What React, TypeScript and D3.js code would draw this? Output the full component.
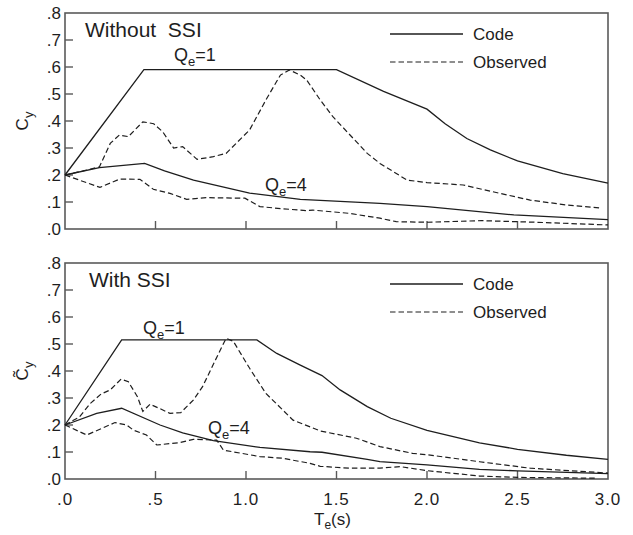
import React from 'react';
import * as d3 from 'd3';

// Yield strength coefficient spectra: period T_e (s) vs C_y
type Pt = [number, number];

const withoutCodeQ1: Pt[] = [[0, 0.2], [0.436, 0.59], [1.5, 0.59], [1.76, 0.51], [2.0, 0.444], [2.1, 0.39], [2.22, 0.335], [2.35, 0.293], [2.5, 0.252], [2.75, 0.205], [3.0, 0.17]];
const withoutObsQ1: Pt[] = [[0, 0.2], [0.1, 0.215], [0.19, 0.23], [0.25, 0.317], [0.3, 0.348], [0.35, 0.342], [0.43, 0.397], [0.49, 0.39], [0.54, 0.36], [0.6, 0.3], [0.65, 0.305], [0.73, 0.258], [0.82, 0.268], [0.89, 0.28], [1.02, 0.367], [1.11, 0.478], [1.19, 0.57], [1.24, 0.589], [1.3, 0.57], [1.335, 0.552], [1.41, 0.478], [1.48, 0.416], [1.67, 0.28], [1.74, 0.243], [1.89, 0.181], [2.0, 0.172], [2.2, 0.163], [2.35, 0.14], [2.57, 0.107], [2.77, 0.089], [2.965, 0.077]];
const withoutCodeQ4: Pt[] = [[0, 0.2], [0.19, 0.227], [0.44, 0.243], [0.55, 0.215], [0.71, 0.181], [1.02, 0.133], [1.3, 0.11], [1.74, 0.095], [2.0, 0.083], [2.48, 0.052], [3.0, 0.035]];
const withoutObsQ4: Pt[] = [[0, 0.2], [0.193, 0.154], [0.267, 0.175], [0.304, 0.185], [0.414, 0.184], [0.488, 0.147], [0.58, 0.132], [0.672, 0.11], [0.78, 0.116], [0.994, 0.114], [1.077, 0.083], [1.2, 0.075], [1.335, 0.068], [1.37, 0.07], [1.57, 0.058], [1.74, 0.04], [1.83, 0.027], [2.0, 0.025], [2.3, 0.031], [2.6, 0.025], [3.0, 0.015]];

const withCodeQ1: Pt[] = [[0, 0.2], [0.313, 0.515], [1.06, 0.515], [1.17, 0.465], [1.3, 0.422], [1.42, 0.383], [1.52, 0.33], [1.67, 0.268], [1.8, 0.225], [2.0, 0.18], [2.29, 0.134], [2.5, 0.11], [2.77, 0.088], [3.0, 0.073]];
const withObsQ1: Pt[] = [[0, 0.2], [0.08, 0.23], [0.14, 0.28], [0.2, 0.315], [0.25, 0.33], [0.31, 0.37], [0.35, 0.36], [0.4, 0.305], [0.43, 0.25], [0.47, 0.277], [0.52, 0.262], [0.58, 0.243], [0.64, 0.246], [0.71, 0.293], [0.76, 0.342], [0.84, 0.453], [0.89, 0.521], [0.93, 0.51], [1.02, 0.41], [1.11, 0.317], [1.26, 0.218], [1.41, 0.178], [1.61, 0.151], [1.74, 0.12], [1.92, 0.095], [2.0, 0.09], [2.29, 0.064], [2.57, 0.04], [3.0, 0.022]];
const withCodeQ4: Pt[] = [[0, 0.2], [0.175, 0.243], [0.313, 0.262], [0.525, 0.2], [0.65, 0.171], [0.82, 0.142], [1.077, 0.117], [1.354, 0.101], [1.42, 0.099], [1.67, 0.073], [1.74, 0.064], [2.0, 0.052], [2.29, 0.036], [2.5, 0.03], [3.0, 0.02]];
const withObsQ4: Pt[] = [[0, 0.2], [0.12, 0.163], [0.276, 0.209], [0.34, 0.2], [0.378, 0.181], [0.45, 0.163], [0.507, 0.126], [0.635, 0.135], [0.709, 0.147], [0.838, 0.144], [0.875, 0.107], [1.077, 0.083], [1.2, 0.077], [1.354, 0.058], [1.41, 0.047], [1.57, 0.04], [1.74, 0.04], [1.85, 0.046], [2.0, 0.031], [2.29, 0.011], [2.5, 0.006], [2.93, 0.003]];

const yTicks = [0, 0.1, 0.2, 0.3, 0.4, 0.5, 0.6, 0.7, 0.8];
const yTickLabels = ['.0', '.1', '.2', '.3', '.4', '.5', '.6', '.7', '.8'];
const xTicks = [0, 0.5, 1.0, 1.5, 2.0, 2.5, 3.0];
const xTickLabels = ['.0', '.5', '1.0', '1.5', '2.0', '2.5', '3.0'];

const FONT = '"Liberation Sans", Arial, Helvetica, sans-serif';
const INK = '#1e1e1e';
const FRAME = '#5a5a5a';
const DASH = '5.5,3';

const W = 633;
const H = 535;
const left = 65;
const right = 608;
const panelH = 216;

const x = d3.scaleLinear().domain([0, 3]).range([left, right]);

interface PanelProps {
  top: number;
  title: string;
  tilde: boolean;
  codeQ1: Pt[];
  obsQ1: Pt[];
  codeQ4: Pt[];
  obsQ4: Pt[];
  q1Pos: [number, number];
  q4Pos: [number, number];
  showXLabels: boolean;
}

function QLabel({ at, n }: { at: [number, number]; n: string }) {
  return (
    <text x={at[0]} y={at[1]} fontSize={18} fill={INK} fontFamily={FONT}>
      Q
      <tspan fontSize={13} dy={5}>e</tspan>
      <tspan dy={-5}>={n}</tspan>
    </text>
  );
}

function Panel(p: PanelProps) {
  const y = d3.scaleLinear().domain([0, 0.8]).range([p.top + panelH, p.top]);
  const line = d3.line<Pt>().x((d) => x(d[0])).y((d) => y(d[1]));
  const bottom = p.top + panelH;
  const yMid = y(0.4);
  return (
    <g>
      {/* frame */}
      <rect x={left} y={p.top} width={right - left} height={panelH} fill="none" stroke={FRAME} strokeWidth={1.6} />
      {/* inward ticks */}
      {yTicks.filter((t) => t > 0 && t < 0.8).map((t) => (
        <line key={'yt' + t} x1={left} x2={left + 8} y1={y(t)} y2={y(t)} stroke={FRAME} strokeWidth={1.4} />
      ))}
      {xTicks.filter((t) => t > 0 && t < 3).map((t) => (
        <line key={'xt' + t} x1={x(t)} x2={x(t)} y1={bottom} y2={bottom - 8} stroke={FRAME} strokeWidth={1.4} />
      ))}
      {yTicks.map((t, i) => (
        <text key={'yl' + t} x={61} y={y(t)} dy="0.36em" textAnchor="end" fontSize={17} fill={INK} fontFamily={FONT}>
          {yTickLabels[i]}
        </text>
      ))}
      {p.showXLabels &&
        xTicks.map((t, i) => (
          <text key={'xl' + t} x={x(t)} y={bottom + 26} textAnchor="middle" fontSize={17} fill={INK} fontFamily={FONT} letterSpacing={1}>
            {xTickLabels[i]}
          </text>
        ))}
      {/* y axis title */}
      <text transform={`translate(28,${yMid}) rotate(-90)`} textAnchor="middle" fontSize={17} fill={INK} fontFamily={FONT}>
        {p.tilde ? 'C\u0303' : 'C'}
        <tspan fontSize={13} dy={5}>y</tspan>
      </text>
      {/* title */}
      <text x={p.tilde ? 89 : 85} y={p.top + 24} fontSize={21} fill={INK} fontFamily={FONT}>
        {p.title}
      </text>
      {/* series */}
      <path d={line(p.codeQ1) ?? ''} fill="none" stroke={INK} strokeWidth={1.3} />
      <path d={line(p.codeQ4) ?? ''} fill="none" stroke={INK} strokeWidth={1.3} />
      <path d={line(p.obsQ1) ?? ''} fill="none" stroke={INK} strokeWidth={1.2} strokeDasharray={DASH} />
      <path d={line(p.obsQ4) ?? ''} fill="none" stroke={INK} strokeWidth={1.2} strokeDasharray={DASH} />
      <QLabel at={p.q1Pos} n="1" />
      <QLabel at={p.q4Pos} n="4" />
      {/* legend */}
      <line x1={390} x2={463} y1={p.top + 21} y2={p.top + 21} stroke={INK} strokeWidth={1.3} />
      <text x={473} y={p.top + 27} fontSize={17} fill={INK} fontFamily={FONT}>Code</text>
      <line x1={390} x2={463} y1={p.top + 49} y2={p.top + 49} stroke={INK} strokeWidth={1.2} strokeDasharray={DASH} />
      <text x={473} y={p.top + 55} fontSize={17} fill={INK} fontFamily={FONT}>Observed</text>
    </g>
  );
}

export default function App() {
  return (
    <svg width={W} height={H} style={{ position: 'absolute', left: 0, top: 0, background: '#fff' }}>
      <rect width={W} height={H} fill="#fff" />
      <Panel
        top={13}
        title={'Without\u00a0\u00a0SSI'}
        tilde={false}
        codeQ1={withoutCodeQ1}
        obsQ1={withoutObsQ1}
        codeQ4={withoutCodeQ4}
        obsQ4={withoutObsQ4}
        q1Pos={[174, 61]}
        q4Pos={[265, 191]}
        showXLabels={false}
      />
      <Panel
        top={263}
        title="With SSI"
        tilde={true}
        codeQ1={withCodeQ1}
        obsQ1={withObsQ1}
        codeQ4={withCodeQ4}
        obsQ4={withObsQ4}
        q1Pos={[143, 334]}
        q4Pos={[208, 434]}
        showXLabels={true}
      />
      <text x={314} y={525} fontSize={17} fill={INK} fontFamily={FONT}>
        T<tspan fontSize={12} dy={4}>e</tspan>
        <tspan dy={-4}>(s)</tspan>
      </text>
    </svg>
  );
}
